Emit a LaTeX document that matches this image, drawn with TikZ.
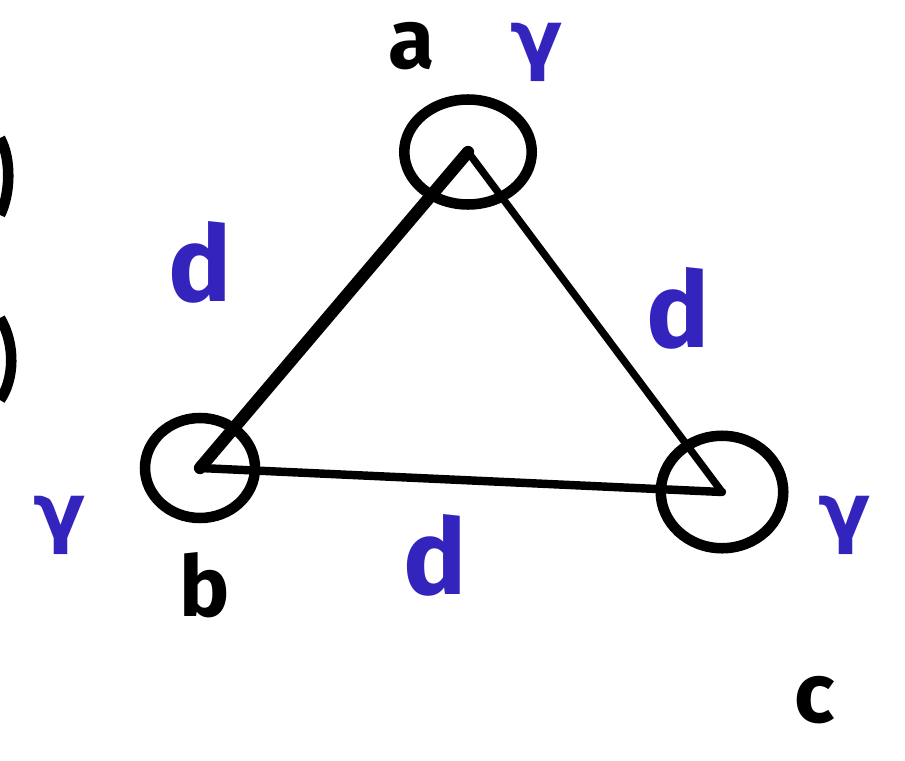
\documentclass[tikz,border=0pt]{standalone}
\usepackage{fontspec}
\setmainfont{Fira Sans}
\newfontfamily\gamfont{DejaVu Sans}
\usetikzlibrary{shapes.geometric}
\definecolor{pen}{RGB}{52,36,190}
\tikzset{
  vtx/.style={draw,ellipse,line width=6pt,inner sep=0pt},
  ink/.style={font=\bfseries\fontsize{48}{48}\selectfont},
  blu/.style={text=pen,font=\bfseries\fontsize{60}{60}\selectfont},
  gam/.style={text=pen,inner sep=0pt,font=\gamfont\bfseries\fontsize{44}{44}\selectfont},
}

\begin{document}
\begin{tikzpicture}[x=0.02cm,y=-0.02cm]
\useasboundingbox (0,0) rectangle (905,760);
% vertices
\node[vtx,minimum width=2.55cm,minimum height=2.1cm] (a) at (468,152) {};
\node[vtx,minimum width=2.2cm,minimum height=2cm] (b) at (200,468) {};
\node[vtx,minimum width=2.45cm,minimum height=2.25cm] (c) at (722,492) {};
% sides
\draw[line width=7pt,line cap=round] (a.center)--(b.center);
\draw[line width=4.2pt,line cap=round] (a.center)--(c.center);
\draw[line width=4.8pt,line cap=round] (b.center)--(c.center);
% names
\node[ink] (la) at (412,46) {a};
\node[ink] (lb) at (205,585) {b};
\node[ink] (lc) at (815,700) {c};
% lengths and angles
\node[blu] (dab) at (200,262) {d};
\node[blu] (dac) at (678,308) {d};
\node[blu] (dbc) at (435,555) {d};
\node[gam] (ga) at (537,52) {γ};
\node[gam] (gb) at (60,525) {γ};
\node[gam] (gc) at (845,525) {γ};
% bits of a bracket cut off at the left
\draw[line width=6pt] (0,138) .. controls (12,160) and (10,195) .. (0,215);
\draw[line width=6pt] (0,318) .. controls (16,345) and (14,380) .. (0,400);
\end{tikzpicture}
\end{document}
